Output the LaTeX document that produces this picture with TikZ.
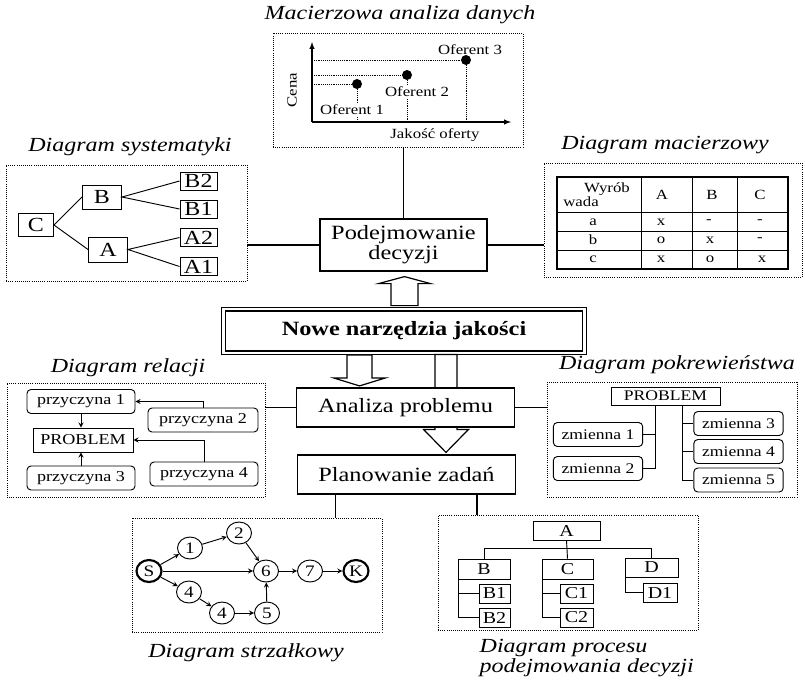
\documentclass[tikz,border=0pt]{standalone}
\usepackage{fontspec}
\setmainfont{Liberation Serif}[FakeStretch=1.2]
\usetikzlibrary{shapes,arrows,calc}

\begin{document}
\begin{tikzpicture}[>=stealth, x=0.75pt, y=-0.75pt,
  panel/.style={draw, densely dotted, line width=0.6pt, inner sep=0pt},
  caption/.style={font=\fontsize{15}{15}\selectfont\itshape},
  mainbox/.style={draw, line width=0.9pt, fill=white, inner sep=0pt, align=center, minimum width=164pt, minimum height=29.25pt, font=\fontsize{15.2}{15}\selectfont},
  treebox/.style={draw, line width=0.7pt, inner sep=0pt, font=\fontsize{15}{15}\selectfont},
  leafbox/.style={treebox, minimum width=27.75pt, minimum height=13.5pt},
  cause/.style={draw, rounded corners=3pt, line width=0.7pt, inner sep=0pt, minimum width=81pt, minimum height=18pt, font=\fontsize{11.3}{12}\selectfont},
  varbox/.style={cause, minimum width=67pt, font=\fontsize{11}{12}\selectfont},
  cell/.style={inner sep=0pt, font=\fontsize{10.5}{11}\selectfont},
  event/.style={ellipse, draw, line width=0.7pt, inner sep=0pt, minimum width=18.75pt, minimum height=16.5pt, font=\fontsize{12}{12}\selectfont},
  procbox/.style={draw, line width=0.7pt, inner sep=0pt, font=\fontsize{12.5}{12}\selectfont},
  hollow/.style={draw, line width=0.9pt, fill=white, line join=miter},
  dot/.style={circle, fill, inner sep=0pt, minimum size=7.5pt}]
  \useasboundingbox (0,0) rectangle (805,679);
  % panels and their titles
  \node[caption] (capmac) at (400,15) {Macierzowa analiza danych};
  \node[panel, minimum width=187.5pt, minimum height=85.5pt] (macpanel) at (398,90) {};
  \node[caption] (capsys) at (130,147) {Diagram systematyki};
  \node[panel, minimum width=180.75pt, minimum height=87pt] (syst) at (126.5,223) {};
  \node[caption] (capmacz) at (665,145) {Diagram macierzowy};
  \node[panel, minimum width=193.5pt, minimum height=85.5pt] (macz) at (673,220) {};
  \node[caption] (caprel) at (128,368) {Diagram relacji};
  \node[panel, minimum width=193.5pt, minimum height=85.5pt] (rel) at (136,440) {};
  \node[caption] (cappok) at (677,365) {Diagram pokrewieństwa};
  \node[panel, minimum width=187.5pt, minimum height=86.25pt] (pokr) at (672,439.5) {};
  \node[caption] (capstrz) at (246,653) {Diagram strzałkowy};
  \node[panel, minimum width=187.5pt, minimum height=85.5pt] (strz) at (257,575) {};
  \node[caption, anchor=base west] (capproc1) at (475,652.5) {Diagram procesu};
  \node[caption, anchor=base west] (capproc2) at (475,672) {podejmowania decyzji};
  \node[panel, minimum width=195pt, minimum height=86.25pt] (proc) at (568,572.5) {};

  % central column
  \node[mainbox, minimum width=125.25pt, minimum height=39pt] (podejm) at (403.5,245) {Podejmowanie\\decyzji};
  \node[draw, double, double distance=1.8pt, line width=0.9pt, inner sep=0pt, minimum width=271pt, minimum height=32.6pt, font=\fontsize{15.2}{15}\selectfont\bfseries] (nowe) at (404,331) {Nowe narzędzia jakości};
  \node[mainbox] (plan) at (406.5,474.5) {Planowanie zadań};
  \draw[hollow] ($(plan.north)+(39.5,-2)$) -- ++(22.5,-23) -- ++(-11.5,0) -- ++(0,-75) -- ++(-22,0) -- ++(0,75) -- ++(-11.5,0) -- cycle;
  \node[mainbox] (analiza) at (405.5,407.5) {Analiza problemu};
  \draw[hollow] ($(podejm.south)+(1,5)$) -- ++(26,7) -- ++(-12.5,0) -- ++(0,22) -- ++(-27,0) -- ++(0,-22) -- ++(-12.5,0) -- cycle;
  \draw[hollow] ($(analiza.north)+(-46,-1.5)$) -- ++(26,-8) -- ++(-13.5,0) -- ++(0,-23) -- ++(-25,0) -- ++(0,23) -- ++(-13.5,0) -- cycle;

  % links to the panels
  \draw[line width=0.8pt] (podejm.north) -- (podejm.north |- macpanel.south);
  \draw[line width=0.8pt] (podejm.west) -- (podejm.west -| syst.east);
  \draw[line width=0.8pt] (podejm.east) -- (podejm.east -| macz.west);
  \draw[line width=0.8pt] (analiza.west) -- (analiza.west -| rel.east);
  \draw[line width=0.8pt] (analiza.east) -- (analiza.east -| pokr.west);
  \coordinate (pl1) at ($(plan.south)+(-71,0)$);
  \coordinate (pl2) at ($(plan.south)+(70.5,0)$);
  \draw[line width=0.8pt] (pl1) -- (pl1 |- strz.north);
  \draw[line width=0.8pt] (pl2) -- (pl2 |- proc.north);

  % matrix data analysis
  \coordinate (orig) at (312,122);
  \coordinate (ytop) at (312,42);
  \coordinate (xend) at (511,122);
  \draw[-latex, line width=0.8pt] (orig) -- (ytop);
  \draw[-latex, line width=0.8pt] (orig) -- (xend);
  \node[dot] (of1) at (357,84) {};
  \node[dot] (of2) at (407,75) {};
  \node[dot] (of3) at (466,60) {};
  \draw[densely dotted] (of1 -| orig) -- (of1) -- (of1 |- orig);
  \draw[densely dotted] (of2 -| orig) -- (of2) -- (of2 |- orig);
  \draw[densely dotted] (of3 -| orig) -- (of3) -- (of3 |- orig);
  \node[cell, fill=white, inner sep=1pt] (lof1) at (352,110) {Oferent 1};
  \node[cell, fill=white, inner sep=1pt] (lof2) at (417,92) {Oferent 2};
  \node[cell] (lof3) at (470,50) {Oferent 3};
  \node[cell, rotate=90] (cena) at (292,90) {Cena};
  \node[cell] (jakosc) at (435,135) {Jakość oferty};

  % systematics tree
  \node[treebox, minimum width=26.25pt, minimum height=17.25pt] (sc) at (36,225) {C};
  \node[treebox, minimum width=29.25pt, minimum height=18pt] (sb) at (102,197) {B};
  \node[treebox, minimum width=29.25pt, minimum height=18.75pt] (sa) at (108,249.5) {A};
  \node[leafbox] (sb2) at (198.5,181) {B2};
  \node[leafbox] (sb1) at (198.5,209) {B1};
  \node[leafbox] (sa2) at (198.5,237.5) {A2};
  \node[leafbox] (sa1) at (198.5,266.5) {A1};
  \draw[line width=0.7pt] (sb.west) -- (sc.east) -- (sa.west);
  \draw[line width=0.7pt] (sb2.west) -- (sb.east) -- (sb1.west);
  \draw[line width=0.7pt] (sa2.west) -- (sa.east) -- (sa1.west);

  % matrix diagram
  \draw[line width=0.8pt] (557,177) rectangle (788,269);
  \draw[line width=0.7pt] (641,177) -- (641,269);
  \draw[line width=0.7pt] (692,177) -- (692,269);
  \draw[line width=0.7pt] (737,177) -- (737,269);
  \draw[line width=0.7pt] (557,212) -- (788,212);
  \draw[line width=0.7pt] (557,231) -- (788,231);
  \draw[line width=0.7pt] (557,250) -- (788,250);
  \node[cell] (hwyr) at (607,189) {Wyrób};
  \node[cell] (hwada) at (581,202) {wada};
  \node[cell] (ha) at (662,195) {A};
  \node[cell] (hb) at (712,195) {B};
  \node[cell] (hc) at (760,195) {C};
  \node[cell] (ra) at (593,222) {a};
  \node[cell] (rb) at (593,240) {b};
  \node[cell] (rc) at (593,259) {c};
  \node[cell] (ma1) at (661,222) {x};
  \node[cell] (mb1) at (709,222) {-};
  \node[cell] (mc1) at (760,222) {-};
  \node[cell] (ma2) at (661,240) {o};
  \node[cell] (mb2) at (710,240) {x};
  \node[cell] (mc2) at (760,240) {-};
  \node[cell] (ma3) at (661,259) {x};
  \node[cell] (mb3) at (710,259) {o};
  \node[cell] (mc3) at (762,259) {x};

  % relations diagram
  \node[cause] (pz1) at (81,401.5) {przyczyna 1};
  \node[cause, minimum width=82.5pt] (pz2) at (203,420) {przyczyna 2};
  \node[cause, rounded corners=0pt, minimum width=75pt] (relprob) at (83,440) {PROBLEM};
  \node[cause] (pz3) at (81,478) {przyczyna 3};
  \node[cause] (pz4) at (204,474) {przyczyna 4};
  \draw[->, line width=0.7pt] (pz1.south) -- (pz1.south |- relprob.north);
  \draw[->, line width=0.7pt] (pz3.north) -- (pz3.north |- relprob.south);
  \draw[->, line width=0.7pt] (pz2.north) |- (pz1.east);
  \draw[->, line width=0.7pt] (pz4.north) |- (relprob.east);

  % affinity diagram
  \node[varbox, rounded corners=0pt, minimum width=81.75pt, minimum height=13.5pt] (pokprob) at (665.5,396) {PROBLEM};
  \node[varbox] (zm1) at (598,434.5) {zmienna 1};
  \node[varbox] (zm2) at (598,468.5) {zmienna 2};
  \node[varbox] (zm3) at (738.5,423.5) {zmienna 3};
  \node[varbox] (zm4) at (738.5,451.5) {zmienna 4};
  \node[varbox] (zm5) at (738.5,480) {zmienna 5};
  \coordinate (trl) at ($(pokprob.south)+(-10.5,0)$);
  \coordinate (trr) at ($(pokprob.south)+(16.5,0)$);
  \draw[line width=0.7pt] (trl) |- (zm1.east);
  \draw[line width=0.7pt] (trl) |- (zm2.east);
  \draw[line width=0.7pt] (trr) |- (zm3.west);
  \draw[line width=0.7pt] (trr) |- (zm4.west);
  \draw[line width=0.7pt] (trr) |- (zm5.west);

  % arrow diagram
  \node[event, line width=1.6pt] (ss) at (149,571) {S};
  \node[event] (e1) at (190,548) {1};
  \node[event] (e2) at (239,533) {2};
  \node[event] (e6) at (266,571) {6};
  \node[event] (e7) at (310,571) {7};
  \node[event, line width=1.6pt] (kk) at (356,571) {K};
  \node[event] (e4) at (189,592) {4};
  \node[event] (e4b) at (222,613) {4};
  \node[event] (e5) at (267,613) {5};
  \draw[->, line width=0.7pt] (ss) -- (e1);
  \draw[->, line width=0.7pt] (e1) -- (e2);
  \draw[->, line width=0.7pt] (e2) -- (e6);
  \draw[->, line width=0.7pt] (ss) -- (e6);
  \draw[->, line width=0.7pt] (e6) -- (e7);
  \draw[->, line width=0.7pt] (e7) -- (kk);
  \draw[->, line width=0.7pt] (ss) -- (e4);
  \draw[->, line width=0.7pt] (e4) -- (e4b);
  \draw[->, line width=0.7pt] (e4b) -- (e5);
  \draw[->, line width=0.7pt] (e5) -- (e6);

  % decision process chart
  \node[procbox, minimum width=50.25pt, minimum height=14.25pt] (da) at (566.5,530.5) {A};
  \node[procbox, minimum width=39pt, minimum height=15pt] (db) at (484,569) {B};
  \node[procbox, minimum width=38.25pt, minimum height=15pt] (dc) at (567.5,569) {C};
  \node[procbox, minimum width=39.75pt, minimum height=14.25pt] (dd) at (651.5,567.5) {D};
  \node[procbox, minimum width=23.25pt, minimum height=14.25pt] (db1) at (494.5,593.5) {B1};
  \node[procbox, minimum width=23.25pt, minimum height=14.25pt] (db2) at (494.5,617.5) {B2};
  \node[procbox, minimum width=24.75pt, minimum height=14.25pt] (dc1) at (576.5,593.5) {C1};
  \node[procbox, minimum width=24.75pt, minimum height=14.25pt] (dc2) at (576.5,617.5) {C2};
  \node[procbox, minimum width=25.5pt, minimum height=14.25pt] (dd1) at (660,592.5) {D1};
  \draw[line width=0.7pt] (da.south) -- (dc.north);
  \draw[line width=0.7pt] (db.north) -- ++(0,-10) -| (dd.north);
  \draw[line width=0.7pt] ($(db.south west)+(1,0)$) |- (db1.west);
  \draw[line width=0.7pt] ($(db.south west)+(1,0)$) |- (db2.west);
  \draw[line width=0.7pt] ($(dc.south west)+(1,0)$) |- (dc1.west);
  \draw[line width=0.7pt] ($(dc.south west)+(1,0)$) |- (dc2.west);
  \draw[line width=0.7pt] ($(dd.south west)+(1,0)$) |- (dd1.west);
\end{tikzpicture}
\end{document}
